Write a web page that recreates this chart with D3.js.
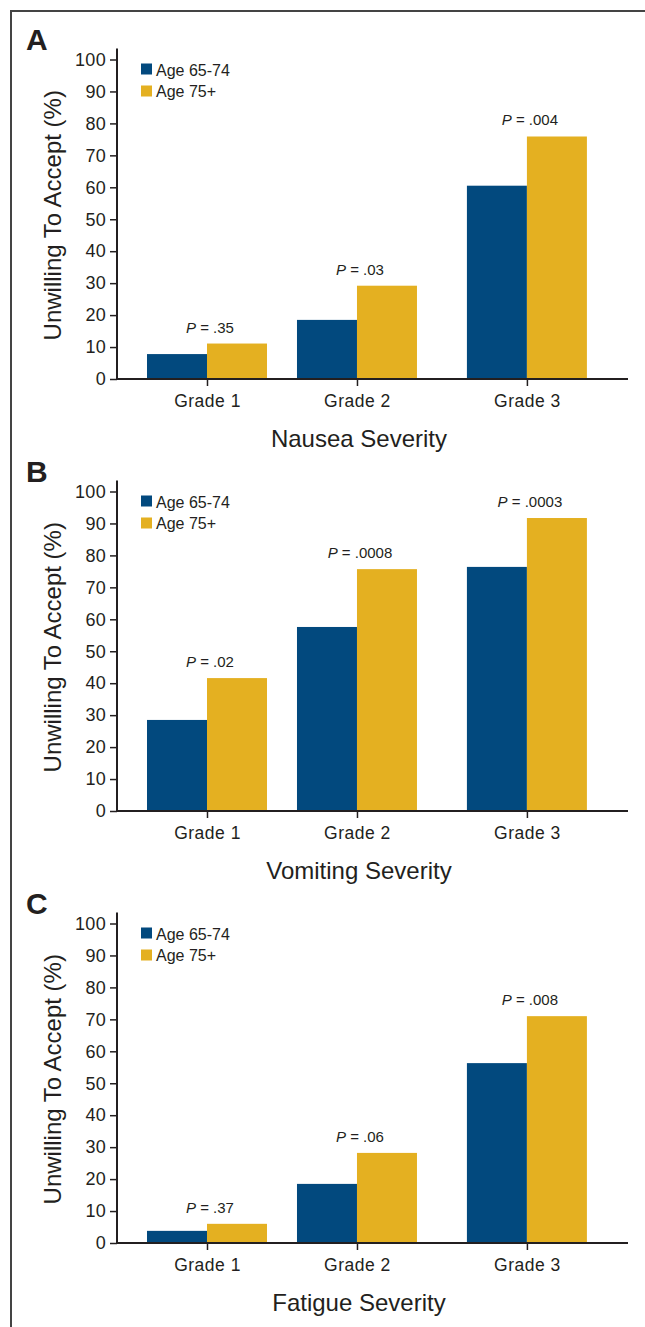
<!doctype html>
<html>
<head>
<meta charset="utf-8">
<script src="https://d3js.org/d3.v7.min.js"></script>
<style>
  body { margin: 0; background: #fff; }
  svg { display: block; font-family: "Liberation Sans", Arial, sans-serif; }
</style>
</head>
<body>
<script>
// data
var panelLetters = ["A", "B", "C"];
var severity = ["Nausea Severity", "Vomiting Severity", "Fatigue Severity"];
var grades = ["Grade 1", "Grade 2", "Grade 3"];
var ageGroups = ["Age 65-74", "Age 75+"];
var age6574 = [[7.8, 18.5, 60.5], [28.5, 57.6, 76.4], [3.8, 18.5, 56.3]];
var age75 = [[11.1, 29.2, 75.9], [41.6, 75.7, 91.7], [6.0, 28.2, 71.0]];
var pValues = [[".35", ".03", ".004"], [".02", ".0008", ".0003"], [".37", ".06", ".008"]];
var yTicks = [0, 10, 20, 30, 40, 50, 60, 70, 80, 90, 100];

// layout
var catPos = [0, 1, 2.133];   // grade 3 sits a bit further out
var colors = ["#02497e", "#e4b021"];
var ink = "#231f20";
var W = 645, H = 1327;
var panelStep = 432;
var barW = 0.4;

var svg = d3.select("body").append("svg").attr("width", W).attr("height", H);

// frame (left + top only are visible)
svg.append("path")
  .attr("d", "M11," + H + "V11H" + W)
  .attr("fill", "none").attr("stroke", "#444").attr("stroke-width", 2);

var x = d3.scaleLinear().domain([-0.6, 2.807]).range([117, 628]);

severity.forEach(function(title, p) {
  var zero = 379 + p * panelStep;
  var y = d3.scaleLinear().domain([0, 100]).range([zero, zero - 319.5]);
  var g = svg.append("g");

  // panel letter
  g.append("text").attr("x", 26).attr("y", 50 + p * panelStep)
    .attr("font-size", 30).attr("font-weight", "bold").attr("fill", ink)
    .text(panelLetters[p]);

  // bars
  var series = [age6574[p], age75[p]];
  series.forEach(function(vals, s) {
    g.selectAll(".bar" + s).data(vals).enter().append("rect")
      .attr("x", function(d, i) { return x(catPos[i] + (s - 1) * barW); })
      .attr("width", x(barW) - x(0))
      .attr("y", function(d) { return y(d); })
      .attr("height", function(d) { return y(0) - y(d); })
      .attr("fill", colors[s]);
  });

  // p values
  var pl = g.selectAll(".pv").data(pValues[p]).enter().append("text")
    .attr("x", function(d, i) { return x(catPos[i]) + 3; })
    .attr("y", function(d, i) { return y(age75[p][i]) - 11; })
    .attr("text-anchor", "middle").attr("font-size", 15).attr("fill", ink);
  pl.append("tspan").attr("font-style", "italic").text("P");
  pl.append("tspan").text(function(d) { return " = " + d; });

  // y axis
  var ya = g.append("g").attr("transform", "translate(117,0)")
    .call(d3.axisLeft(y).tickValues(yTicks).tickSize(7).tickPadding(4).tickSizeOuter(0));
  ya.select(".domain").remove();
  ya.selectAll("line").attr("stroke", ink).attr("stroke-width", 1.5);
  ya.selectAll("text").attr("font-size", 18).attr("fill", ink)
    .attr("font-family", "Liberation Sans, Arial, sans-serif").attr("letter-spacing", 0.3);
  g.append("line").attr("x1", 117).attr("x2", 117)
    .attr("y1", y(0)).attr("y2", y(100) - 11)
    .attr("stroke", ink).attr("stroke-width", 2);

  // x axis
  var xa = g.append("g").attr("transform", "translate(0," + zero + ")")
    .call(d3.axisBottom(x).tickValues(catPos).tickSize(7).tickPadding(9).tickSizeOuter(0)
      .tickFormat(function(d, i) { return grades[i]; }));
  xa.select(".domain").attr("stroke", ink).attr("stroke-width", 2)
    .attr("d", "M" + x.range()[0] + ",0H" + x.range()[1]);
  xa.selectAll("line").attr("stroke", ink).attr("stroke-width", 1.5);
  xa.selectAll("text").attr("font-size", 17.5).attr("fill", ink)
    .attr("font-family", "Liberation Sans, Arial, sans-serif").attr("letter-spacing", 0.5);

  // axis titles
  g.append("text").attr("x", x(catPos[1]) + 2).attr("y", zero + 68)
    .attr("text-anchor", "middle").attr("font-size", 24).attr("fill", ink)
    .text(title);
  g.append("text")
    .attr("transform", "translate(61," + (y(50) - 4) + ") rotate(-90)")
    .attr("text-anchor", "middle").attr("font-size", 24).attr("fill", ink)
    .text("Unwilling To Accept (%)");

  // legend
  var top = y(100);
  ageGroups.forEach(function(name, s) {
    g.append("rect").attr("x", 141).attr("y", top + 4 + s * 22)
      .attr("width", 11).attr("height", 11).attr("fill", colors[s]);
    g.append("text").attr("x", 156).attr("y", top + 16 + s * 21.5)
      .attr("font-size", 16).attr("fill", ink).text(name);
  });
});
</script>
</body>
</html>
